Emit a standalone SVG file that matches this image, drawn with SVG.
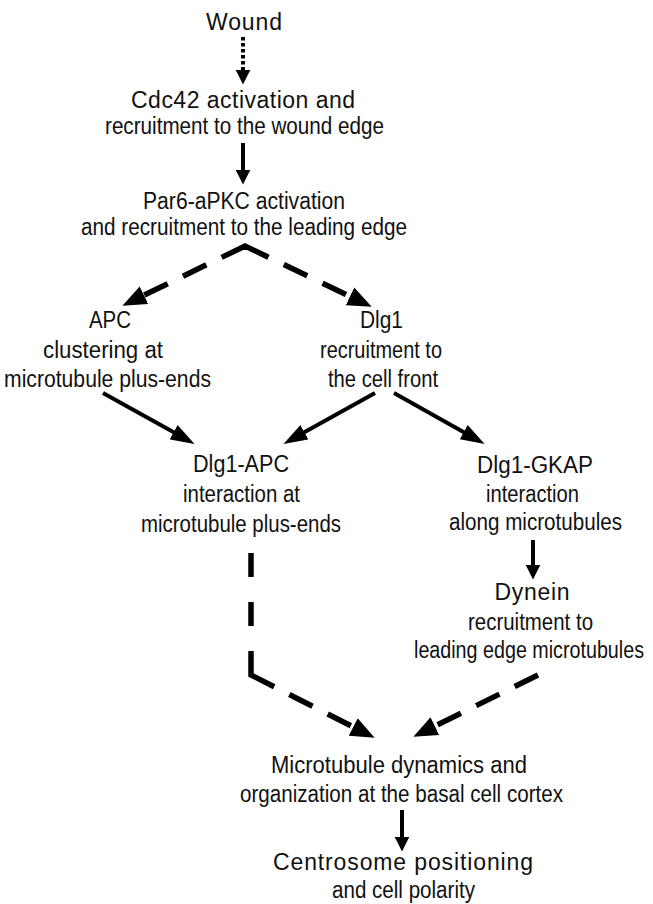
<svg xmlns="http://www.w3.org/2000/svg" width="653" height="904" viewBox="0 0 653 904">
<style>
text{font-family:"Liberation Sans",Arial,sans-serif;font-size:23px;fill:#111;text-anchor:middle}
.s{fill:none;stroke:#000;stroke-width:4}
.d{fill:none;stroke:#000;stroke-width:5.5;stroke-linejoin:miter}
.dot{fill:none;stroke:#000;stroke-width:4;stroke-dasharray:3.5 2.5}
</style>
<defs>
<marker id="ah" markerUnits="userSpaceOnUse" markerWidth="16" markerHeight="16" viewBox="0 -7 14 14" refX="2" refY="0" orient="auto"><path d="M0,-6.5L13,0L0,6.5Z" fill="#000"/></marker>
<marker id="ahd" markerUnits="userSpaceOnUse" markerWidth="24" markerHeight="18" viewBox="0 -8 22 16" refX="2" refY="0" orient="auto"><path d="M0,-7.5L22,0L0,7.5Z" fill="#000"/></marker>
<marker id="ahx" markerUnits="userSpaceOnUse" markerWidth="24" markerHeight="20" viewBox="0 -9 22 18" refX="2" refY="0" orient="auto-start-reverse"><path d="M0,-9L22,0L0,9Z" fill="#000"/></marker>
</defs>

<g id="connectors">
<path class="dot" d="M243,37V72" marker-end="url(#ah)"/>
<path class="s" d="M243,143V172" marker-end="url(#ah)"/>
<path class="d" d="M142,296.2L245,246L352,297.3" stroke-dasharray="0 2.6 26 17 26 17 52 17 26 17 26 100" marker-start="url(#ahx)" marker-end="url(#ahx)"/>
<path class="s" d="M103,393L175.5,433.3" marker-end="url(#ahd)"/>
<path class="s" d="M375,393L302.5,433.3" marker-end="url(#ahd)"/>
<path class="s" d="M394,393L465.6,433.2" marker-end="url(#ahd)"/>
<path class="s" d="M533,540V567" marker-end="url(#ah)"/>
<path class="d" d="M251,553V675L355.2,727.9" stroke-dasharray="24 25 24 25 50 17 26 17 26 17" marker-end="url(#ahx)"/>
<path class="d" d="M538,675L432.9,727.1" stroke-dasharray="26 17" marker-end="url(#ahx)"/>
<path class="s" d="M402,810V839" marker-end="url(#ah)"/>
</g>

<g id="n-wound"><text x="244" y="30" textLength="76" lengthAdjust="spacing">Wound</text></g>
<g id="n-cdc42">
<text x="243" y="108" textLength="224" lengthAdjust="spacing">Cdc42 activation and</text>
<text x="244.5" y="134" textLength="279" lengthAdjust="spacingAndGlyphs">recruitment to the wound edge</text>
</g>
<g id="n-par6">
<text x="244" y="209" textLength="202" lengthAdjust="spacingAndGlyphs">Par6-aPKC activation</text>
<text x="244" y="235" textLength="326" lengthAdjust="spacingAndGlyphs">and recruitment to the leading edge</text>
</g>
<g id="n-apc">
<text x="110" y="328" textLength="42" lengthAdjust="spacingAndGlyphs">APC</text>
<text x="103" y="358" textLength="120" lengthAdjust="spacingAndGlyphs">clustering at</text>
<text x="107.5" y="387" textLength="207" lengthAdjust="spacingAndGlyphs">microtubule plus-ends</text>
</g>
<g id="n-dlg1">
<text x="381.5" y="328" textLength="43" lengthAdjust="spacingAndGlyphs">Dlg1</text>
<text x="381" y="358" textLength="122" lengthAdjust="spacingAndGlyphs">recruitment to</text>
<text x="383" y="387" textLength="110" lengthAdjust="spacingAndGlyphs">the cell front</text>
</g>
<g id="n-dlg1apc">
<text x="241" y="472" textLength="96" lengthAdjust="spacingAndGlyphs">Dlg1-APC</text>
<text x="241.5" y="502" textLength="117" lengthAdjust="spacingAndGlyphs">interaction at</text>
<text x="241" y="532" textLength="200" lengthAdjust="spacingAndGlyphs">microtubule plus-ends</text>
</g>
<g id="n-dlg1gkap">
<text x="535" y="473" textLength="116" lengthAdjust="spacingAndGlyphs">Dlg1-GKAP</text>
<text x="532.5" y="502" textLength="93" lengthAdjust="spacingAndGlyphs">interaction</text>
<text x="535.5" y="530" textLength="173" lengthAdjust="spacingAndGlyphs">along microtubules</text>
</g>
<g id="n-dynein">
<text x="532" y="600" textLength="75" lengthAdjust="spacing">Dynein</text>
<text x="530.5" y="630" textLength="125" lengthAdjust="spacingAndGlyphs">recruitment to</text>
<text x="529" y="658" textLength="230" lengthAdjust="spacingAndGlyphs">leading edge microtubules</text>
</g>
<g id="n-mt">
<text x="399" y="773" textLength="256" lengthAdjust="spacingAndGlyphs">Microtubule dynamics and</text>
<text x="401.5" y="802" textLength="323" lengthAdjust="spacingAndGlyphs">organization at the basal cell cortex</text>
</g>
<g id="n-centrosome">
<text x="403" y="870" textLength="260" lengthAdjust="spacing">Centrosome positioning</text>
<text x="403.5" y="898" textLength="143" lengthAdjust="spacingAndGlyphs">and cell polarity</text>
</g>
</svg>
